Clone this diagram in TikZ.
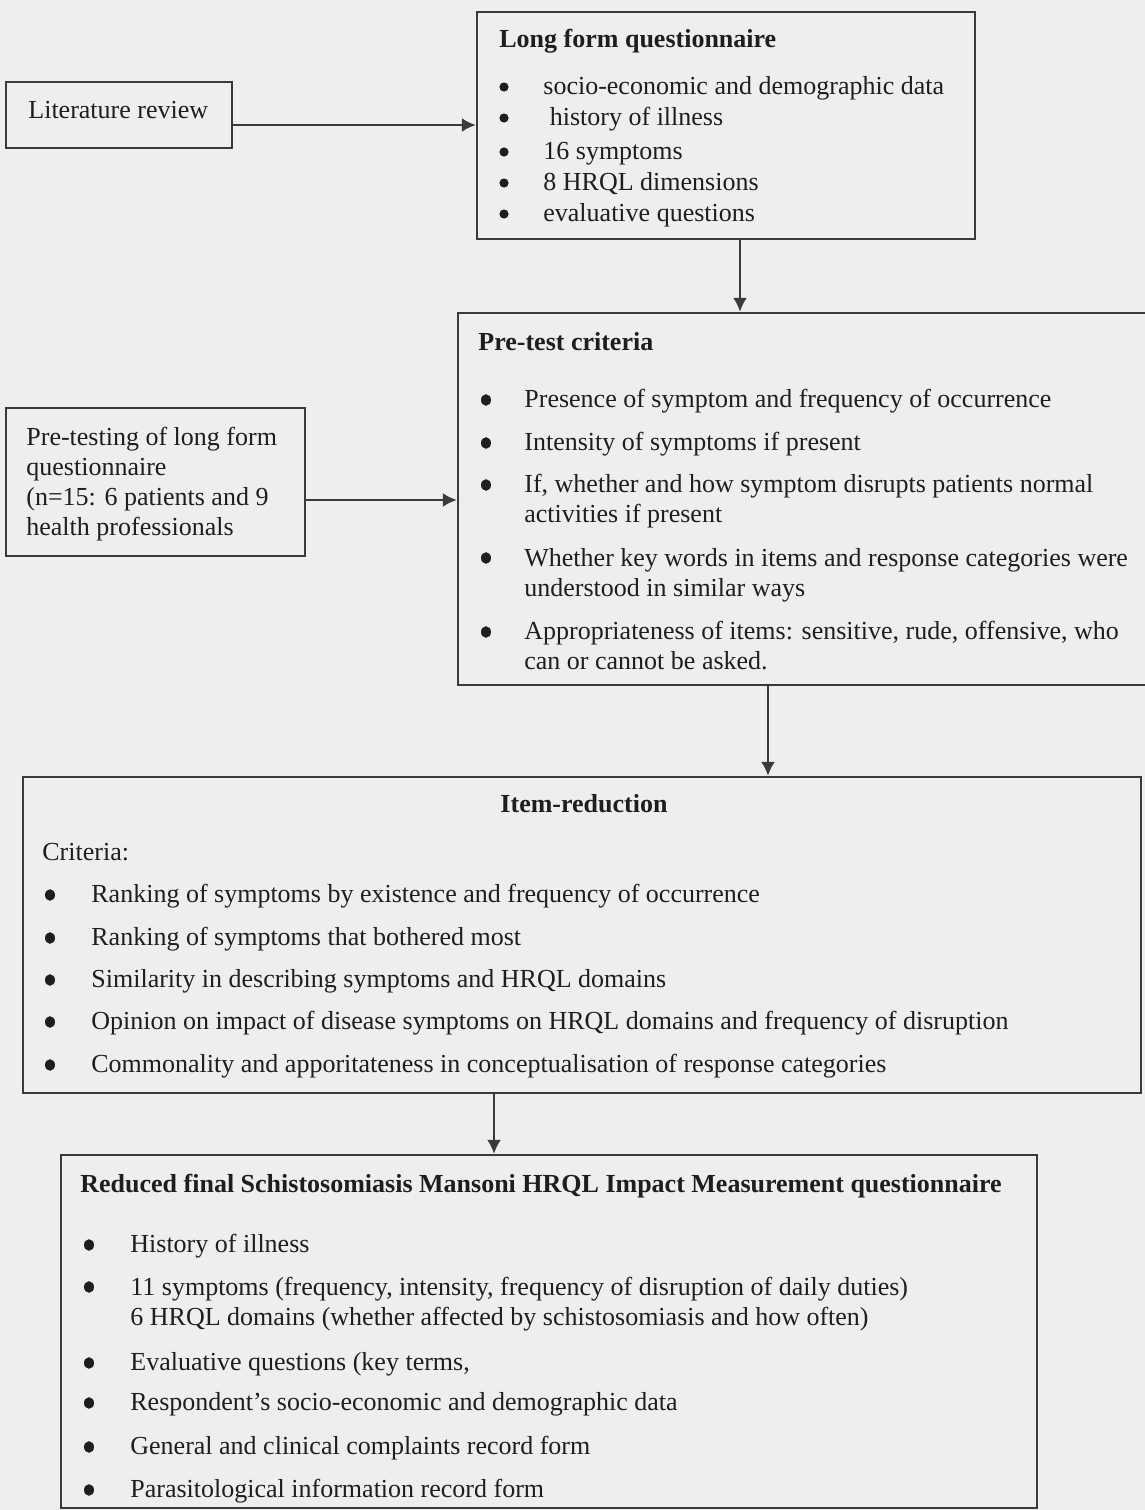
\documentclass[tikz,border=0pt]{standalone}
\usepackage{fontspec}
\setmainfont{Liberation Serif}
\usetikzlibrary{arrows.meta,fit}
\definecolor{bg}{HTML}{EEEEEE}
\definecolor{ink}{HTML}{1E1E1E}
\definecolor{edge}{HTML}{3A3A3A}
\tikzset{
  box/.style={draw=edge,line width=1.2pt,inner sep=0pt},
  txt/.style={anchor=base west,inner sep=0pt,text=ink,font=\fontsize{13pt}{15pt}\selectfont,align=left},
  ttl/.style={txt,font=\fontsize{13pt}{15pt}\selectfont\bfseries},
  arr/.style={draw=edge,line width=1.1pt,-{Latex[length=7pt,width=7pt]}},
  bul/.style={fill=ink}
}
\begin{document}
\begin{tikzpicture}[x=0.5pt,y=-0.5pt]
\fill[bg] (0,0) rectangle (1145,1510);
\useasboundingbox (0,0) rectangle (1145,1510);

% boxes
\node[box,fit={(6,82) (232,148)}] (lit) {};
\node[box,fit={(477,12) (975,239)}] (lfq) {};
\node[box,fit={(6,408) (305,556)}] (ptl) {};
\node[box,fit={(458,313) (1160,685)}] (pre) {};
\node[box,fit={(23,777) (1141,1093)}] (ired) {};
\node[box,fit={(61,1155) (1037,1508)}] (fin) {};

% literature review
\node[txt] (litT) at (28,118) {Literature review};

% long form questionnaire
\node[ttl] (lfqT) at (499,47) {Long form questionnaire};
\foreach \y/\t [count=\i] in {94/{socio-economic and demographic data},125/{\ history of illness},159/{16 symptoms},190/{8 HRQL dimensions},221/{evaluative questions}}{
  \fill[bul] (504,\y-7) circle (2.3pt);
  \node[txt] (lfq\i) at (543,\y) {\t};
}

% pre-testing (base anchor = last line)
\node[txt] (ptlT) at (26,535) {Pre-testing of long form\\questionnaire\\(n=15: 6 patients and 9\\health professionals};

% pre-test criteria
\node[ttl] (preT) at (478,350) {Pre-test criteria};
\foreach \y/\yb/\t [count=\i] in {407/407/{Presence of symptom and frequency of occurrence},450/450/{Intensity of symptoms if present},492/522/{If, whether and how symptom disrupts patients normal\\activities if present},565/596/{Whether key words in items and response categories were\\understood in similar ways},639/669/{Appropriateness of items: sensitive, rude, offensive, who\\can or cannot be asked.}}{
  \fill[bul] (486,\y-7) ellipse (2.5pt and 2.9pt);
  \node[txt] (pre\i) at (524,\yb) {\t};
}

% item reduction
\node[ttl,anchor=base] (iredT) at (584,812) {Item-reduction};
\node[txt] (iredC) at (42,860) {Criteria:};
\foreach \y/\t [count=\i] in {902/{Ranking of symptoms by existence and frequency of occurrence},945/{Ranking of symptoms that bothered most},987/{Similarity in describing symptoms and HRQL domains},1029/{Opinion on impact of disease symptoms on HRQL domains and frequency of disruption},1072/{Commonality and apporitateness in conceptualisation of response categories}}{
  \fill[bul] (50,\y-7) ellipse (2.5pt and 2.9pt);
  \node[txt] (ired\i) at (91,\y) {\t};
}

% final questionnaire
\node[ttl] (finT) at (80,1192) {Reduced final Schistosomiasis Mansoni HRQL Impact Measurement questionnaire};
\foreach \y/\yb/\t [count=\i] in {1252/1252/{History of illness},1294/1325/{11 symptoms (frequency, intensity, frequency of disruption of daily duties)\\6 HRQL domains (whether affected by schistosomiasis and how often)},1370/1370/{Evaluative questions (key terms,},1410/1410/{Respondent’s socio-economic and demographic data},1454/1454/{General and clinical complaints record form},1497/1497/{Parasitological information record form}}{
  \fill[bul] (89,\y-7) ellipse (2.5pt and 2.9pt);
  \node[txt] (fin\i) at (130,\yb) {\t};
}

% connectors
\coordinate (h1) at (0,125);
\coordinate (h2) at (0,500);
\coordinate (v1) at (740,0);
\coordinate (v2) at (768,0);
\coordinate (v3) at (494,0);
\draw[arr] (lit.east |- h1) -- (lfq.west |- h1);
\draw[arr] (ptl.east |- h2) -- (pre.west |- h2);
\draw[arr] (lfq.south -| v1) -- (pre.north -| v1);
\draw[arr] (pre.south -| v2) -- (ired.north -| v2);
\draw[arr] (ired.south -| v3) -- (fin.north -| v3);
\end{tikzpicture}
\end{document}
